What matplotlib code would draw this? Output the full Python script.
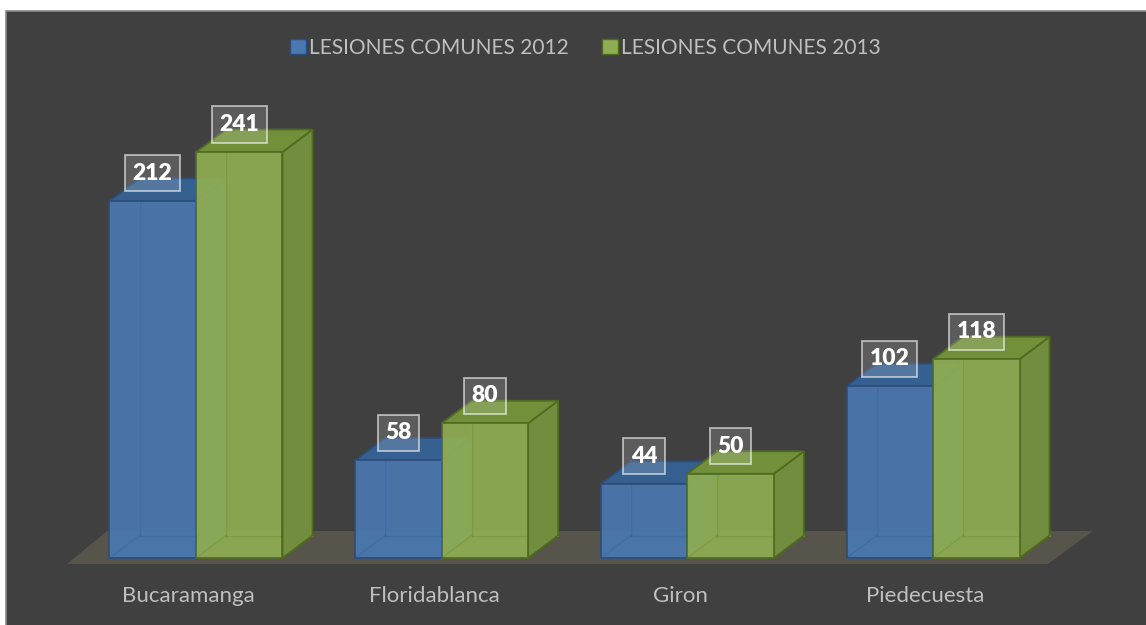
import matplotlib.pyplot as plt
from matplotlib.patches import Polygon, Rectangle, Patch

plt.rcParams['font.family'] = ['Lato', 'DejaVu Sans']

municipios = ['Bucaramanga', 'Floridablanca', 'Giron', 'Piedecuesta']
series = ['LESIONES COMUNES 2012', 'LESIONES COMUNES 2013']
lesiones_2012 = [212, 58, 44, 102]
lesiones_2013 = [241, 80, 50, 118]

# colours: front, top, side, edge
blue = ('#4a78b0', '#35608f', '#3a6194', '#2c4d7a')
green = ('#8fad53', '#72903a', '#718d3d', '#4f6b22')

# pixel layout of the original: category centres 245.67 px apart, 1.6846 px per unit
px_x, px_y = 245.67, 1.6846
bw = 86.5 / px_x          # bar width
dx, dy = 30 / px_x, 22.5 / px_y   # depth of the 3d bars

fig = plt.figure(figsize=(11.46, 6.25), dpi=100, facecolor='white')
fig.patches.append(Rectangle((6 / 1146, -0.1), 1.2, 1.1 - 11 / 625,
                             transform=fig.transFigure, facecolor='#404040',
                             edgecolor='#8a8a8a', lw=1.2, zorder=-5))
ax = fig.add_axes([0, 0, 1, 1])
ax.set_facecolor('none')
ax.set_xlim(-196 / px_x, (1146 - 196) / px_x)
ax.set_ylim(-(625 - 558) / px_y, 558 / px_y)
ax.axis('off')

# floor
floor = [(-0.525, -3.56), (3.468, -3.56), (3.651, 16.0), (-0.362, 16.0)]
ax.add_patch(Polygon(floor, closed=True, facecolor='#57544b', edgecolor='none', zorder=1))


def bar3d(x0, top, cols):
    front, topc, side, edge = cols
    x1 = x0 + bw
    # hidden back edges, seen through the translucent bar
    for xs, ys in [([x0 + dx, x0 + dx], [dy, top + dy]),
                   ([x0 + dx, x1 + dx], [dy, dy]),
                   ([x0, x0 + dx], [0, dy])]:
        ax.plot(xs, ys, color=front, lw=1.2, zorder=2)
    ax.add_patch(Polygon([(x1, 0), (x1 + dx, dy), (x1 + dx, top + dy), (x1, top)],
                         facecolor=side, edgecolor=edge, lw=1.3, zorder=2))
    ax.add_patch(Polygon([(x0, top), (x1, top), (x1 + dx, top + dy), (x0 + dx, top + dy)],
                         facecolor=topc, edgecolor=edge, lw=1.3, zorder=2))
    ax.add_patch(Polygon([(x0, 0), (x1, 0), (x1, top), (x0, top)],
                         facecolor=front, edgecolor=edge, lw=1.3, alpha=0.93, zorder=3))
    for xs, ys in [([x0 + dx, x0 + dx], [dy, top]),
                   ([x0 + dx, x1], [dy, dy]),
                   ([x0, x0 + dx], [0, dy])]:
        ax.plot(xs, ys, color=edge, lw=1.0, alpha=0.25, zorder=4)
    ax.text(x0 + bw / 2, top + 27.5 / px_y, str(top), ha='center', va='center',
            color='white', fontsize=16.5, fontweight='heavy', zorder=6,
            bbox=dict(boxstyle='square,pad=0.33', facecolor=(1, 1, 1, 0.15),
                      edgecolor=(1, 1, 1, 0.6), lw=1.3))


for i, name in enumerate(municipios):
    bar3d(i - bw, lesiones_2012[i], blue)
    bar3d(i, lesiones_2013[i], green)
    ax.text(i - 0.03, -(596 - 558) / px_y, name, ha='center', va='center',
            color='#bfbfbf', fontsize=16)

handles = [Patch(facecolor=blue[0], edgecolor=blue[3]),
           Patch(facecolor=green[0], edgecolor=green[3])]
leg = ax.legend(handles, series, loc='center', bbox_to_anchor=(0.511, 0.923), ncol=2,
                frameon=False, fontsize=15, labelcolor='#bfbfbf', handlelength=0.75,
                handleheight=0.75, handletextpad=0.15, columnspacing=1.6)

fig.savefig('out.png', dpi=100, facecolor=fig.get_facecolor())
